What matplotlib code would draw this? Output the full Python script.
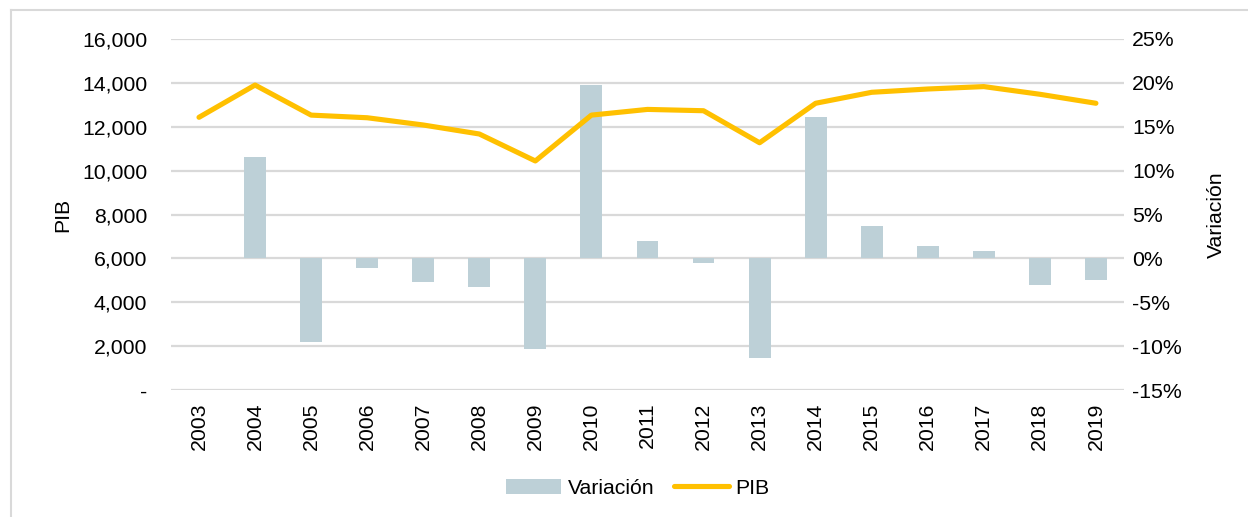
import numpy as np
import matplotlib
matplotlib.use('Agg')
import matplotlib.pyplot as plt
from matplotlib.ticker import FuncFormatter, MultipleLocator
from matplotlib.lines import Line2D

plt.rcParams['font.family'] = ['Liberation Sans', 'DejaVu Sans']

years = ['2003', '2004', '2005', '2006', '2007', '2008', '2009', '2010', '2011',
         '2012', '2013', '2014', '2015', '2016', '2017', '2018', '2019']
pib = [12430, 13900, 12530, 12410, 12080, 11670, 10440, 12530, 12790,
       12730, 11270, 13070, 13570, 13720, 13830, 13480, 13070]
variacion = [np.nan, 11.6, -9.5, -1.1, -2.7, -3.3, -10.3, 19.8, 2.0,
             -0.5, -11.4, 16.1, 3.7, 1.4, 0.8, -3.0, -2.5]

bar_color = '#bdd0d7'
line_color = '#ffc000'
grid_color = '#d9d9d9'
fs = 15.3

fig = plt.figure(figsize=(12.48, 5.17), dpi=100)
ax = fig.add_axes([0.137, 0.2456, 0.7636, 0.679])
ax2 = ax.twinx()

x = np.arange(len(years))

# bars on the right axis (variation), line on the left axis (PIB) drawn on top
ax2.bar(x, variacion, width=0.39, color=bar_color, label='Variación', zorder=2)
ax.plot(x, pib, color=line_color, lw=3.7, solid_capstyle='round', label='PIB', zorder=3)
ax.set_zorder(ax2.get_zorder() + 1)
ax.patch.set_visible(False)

ax.set_xlim(-0.5, len(years) - 0.5)
ax.set_ylim(0, 16000)
ax.yaxis.set_major_locator(MultipleLocator(2000))
ax.yaxis.set_major_formatter(FuncFormatter(lambda v, p: '-' if v == 0 else f'{v:,.0f}'))
ax2.set_ylim(-15, 25)
ax2.yaxis.set_major_locator(MultipleLocator(5))
ax2.yaxis.set_major_formatter(FuncFormatter(lambda v, p: f'{v:.0f}%'))

ax.set_xticks(x)
ax.set_xticklabels(years, rotation=90)

for a in (ax, ax2):
    for s in a.spines.values():
        s.set_visible(False)
    a.tick_params(length=0, labelsize=fs, colors='#000000')
ax.tick_params(axis='y', pad=17)
ax.tick_params(axis='x', pad=9)
ax2.tick_params(axis='y', pad=6)

ax2.yaxis.grid(True, color=grid_color, lw=1.6, zorder=0)
ax2.set_axisbelow(True)

ax.set_ylabel('PIB', fontsize=fs, labelpad=7)
ax2.set_ylabel('Variación', fontsize=fs, labelpad=18)

h1, l1 = ax2.get_legend_handles_labels()
h2, l2 = ax.get_legend_handles_labels()
fig.legend(h1 + h2, l1 + l2, loc='center', bbox_to_anchor=(0.511, 0.056), ncol=2,
           frameon=False, fontsize=fs, handlelength=2.6, columnspacing=0.9,
           handletextpad=0.3)

# light frame of the chart area
fig.add_artist(Line2D([11 / 1248, 11 / 1248], [0, 1 - 10 / 517],
                      transform=fig.transFigure, color=grid_color, lw=1.5))
fig.add_artist(Line2D([11 / 1248, 1], [1 - 10 / 517, 1 - 10 / 517],
                      transform=fig.transFigure, color=grid_color, lw=1.5))

fig.savefig('out.png', dpi=100)
